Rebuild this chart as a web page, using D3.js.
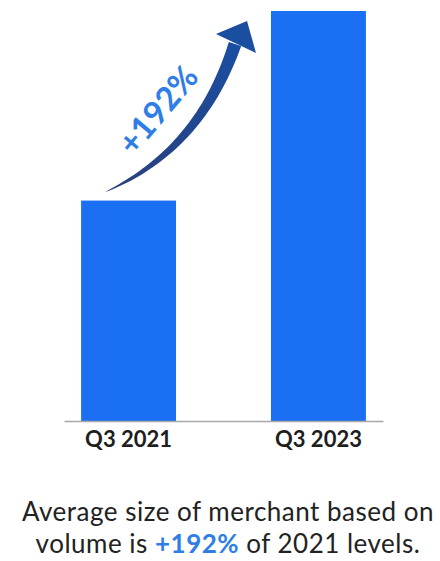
<!DOCTYPE html>
<html>
<head>
<meta charset="utf-8">
<script src="https://cdn.jsdelivr.net/npm/d3@7"></script>
<style>
  body { margin: 0; background: #fff; }
  svg { display: block; font-family: Lato, "Open Sans", sans-serif; }
</style>
</head>
<body>
<div id="chart"></div>
<script>
var categories = ['Q3 2021', 'Q3 2023']
var values = [100, 186]          // index, 2021 = 100
var growthLabel = '+192%'
var captionLine1 = 'Average size of merchant based on'
var captionLine2 = ['volume is ', '+192%', ' of 2021 levels.']

function barChart(selector) {
    /* render growth bar chart */
    var width = 440, height = 561
    var baseY = 421, topY = 11

    var svg = d3.select(selector).append('svg')
        .attr('width', width)
        .attr('height', height)

    var x = d3.scaleBand()
        .domain(categories)
        .range([64, 383])
        .paddingInner(0.5)
        .paddingOuter(0.09)
    var y = d3.scaleLinear()
        .domain([0, d3.max(values)])
        .range([baseY, topY])

    var data = categories.map(function (c, i) { return { key: c, value: values[i] } })

    svg.selectAll('.bar')
        .data(data)
        .enter()
        .append('rect')
        .attr('class', 'bar')
        .attr('x', function (d) { return x(d.key) })
        .attr('y', function (d) { return y(d.value) })
        .attr('width', x.bandwidth())
        .attr('height', function (d) { return baseY - y(d.value) })
        .attr('fill', '#1b6ff3')

    // baseline + category labels
    var axis = svg.append('g')
        .attr('transform', 'translate(0,' + baseY + ')')
        .call(d3.axisBottom(x).tickSize(0).tickPadding(10))
    axis.select('.domain').attr('stroke', '#a8a8a8').attr('stroke-width', 1.5)
    axis.selectAll('text')
        .attr('font-family', 'Lato, sans-serif')
        .attr('font-weight', 'bold')
        .attr('font-size', '22px')
        .attr('fill', '#1e1e1e')

    // tapered growth arrow from first bar to second
    var p0 = [105, 192], c = [200, 150], p1 = [235, 44]
    function pt(t) {
        var u = 1 - t
        return [u * u * p0[0] + 2 * u * t * c[0] + t * t * p1[0],
                u * u * p0[1] + 2 * u * t * c[1] + t * t * p1[1]]
    }
    function tan(t) {
        var dx = 2 * (1 - t) * (c[0] - p0[0]) + 2 * t * (p1[0] - c[0])
        var dy = 2 * (1 - t) * (c[1] - p0[1]) + 2 * t * (p1[1] - c[1])
        var l = Math.sqrt(dx * dx + dy * dy)
        return [dx / l, dy / l]
    }
    var left = [], right = []
    d3.range(0, 1.0001, 0.02).forEach(function (t) {
        var p = pt(t), d = tan(t), w = 6.5 * Math.pow(t, 0.7)
        left.push([p[0] + d[1] * w, p[1] - d[0] * w])
        right.push([p[0] - d[1] * w, p[1] + d[0] * w])
    })
    var shaft = left.concat(right.reverse())

    var grad = svg.append('defs').append('linearGradient')
        .attr('id', 'arrowGrad')
        .attr('gradientUnits', 'userSpaceOnUse')
        .attr('x1', p0[0]).attr('y1', p0[1]).attr('x2', p1[0]).attr('y2', p1[1])
    grad.append('stop').attr('offset', '0').attr('stop-color', '#2a3f7a')
    grad.append('stop').attr('offset', '1').attr('stop-color', '#1a4ea0')

    svg.append('path')
        .attr('d', d3.line()(shaft) + 'Z')
        .attr('fill', 'url(#arrowGrad)')
    svg.append('path')
        .attr('d', d3.line()([[216, 34], [247, 21], [256, 53]]) + 'Z')
        .attr('fill', '#1a4ea0')

    svg.append('text')
        .attr('transform', 'translate(158,110) rotate(-50)')
        .attr('text-anchor', 'middle')
        .attr('dy', '0.35em')
        .attr('font-family', 'Lato, sans-serif')
        .attr('font-weight', 'bold')
        .attr('font-size', '33px')
        .attr('fill', '#2f7ee8')
        .text(growthLabel)

    // caption
    var cap = svg.append('text')
        .attr('text-anchor', 'middle')
        .attr('font-family', 'Lato, sans-serif')
        .attr('font-size', '26px')
        .attr('letter-spacing', '0.5px')
        .attr('fill', '#222')
    cap.append('tspan').attr('x', 228).attr('y', 521).text(captionLine1)
    var l2 = cap.append('tspan').attr('x', 228).attr('y', 553)
    captionLine2.forEach(function (s, i) {
        var t = i === 0 ? l2 : cap.append('tspan')
        t.text(s)
        if (i === 1) t.attr('fill', '#2f7ee8').attr('font-weight', 'bold')
    })
}

barChart('#chart')
</script>
</body>
</html>
